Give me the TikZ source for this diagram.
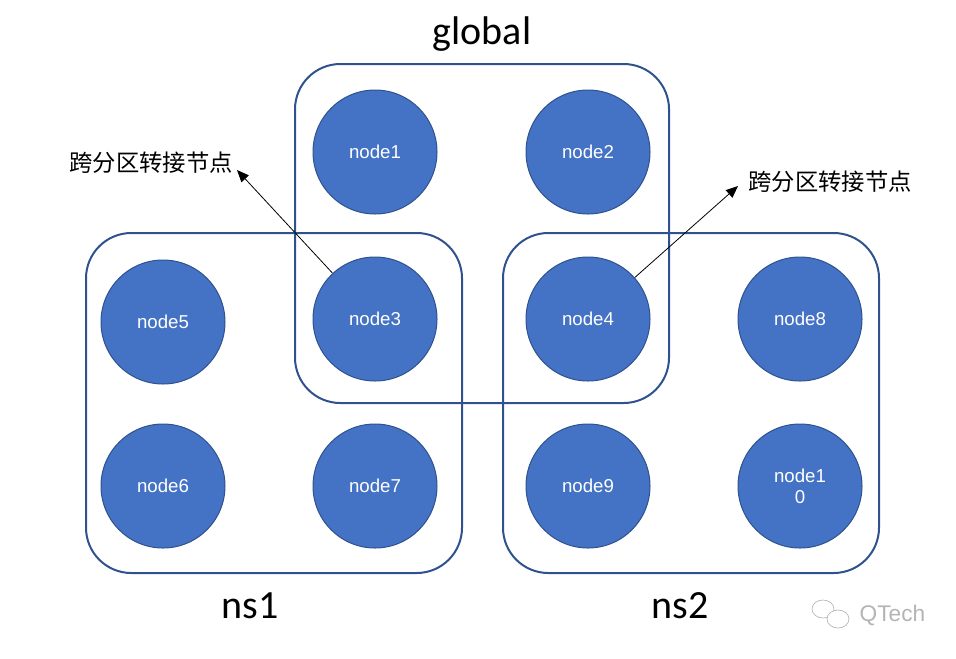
\documentclass[tikz,border=0pt]{standalone}
\usepackage{fontspec}
\setmainfont{Liberation Sans}
\newfontfamily\cjk{Noto Sans CJK SC}
\newfontfamily\calib{Carlito}
\usetikzlibrary{positioning, arrows.meta}
\definecolor{nodeblue}{HTML}{4472C4}
\definecolor{edgeblue}{HTML}{2F528F}
\definecolor{markgray}{HTML}{B4B4B4}

\begin{document}
\begin{tikzpicture}[x=0.75pt, y=-0.75pt,
    vm/.style={circle, draw=edgeblue, fill=nodeblue, line width=0.75pt, minimum size=93pt, inner sep=0pt, text=white, align=center, font=\fontsize{14}{16}\selectfont},
    zone/.style={draw=edgeblue, line width=1.5pt, rounded corners=34pt},
    zonelabel/.style={font=\calib\fontsize{30}{32}\selectfont},
    note/.style={font=\cjk\fontsize{17.5}{19}\selectfont},
    link/.style={-{Triangle[length=9pt, width=7.5pt]}, line width=0.6pt}]
        \useasboundingbox (0,0) rectangle (956,658);
        % partitions
        \draw[zone] (295,64) rectangle (669,403);
        \draw[zone] (86,233) rectangle (462,573);
        \draw[zone] (503,233) rectangle (879,573);
        \node[zonelabel] (Global) at (482,34) {global};
        \node[zonelabel] (NsOne) at (250,606) {ns1};
        \node[zonelabel] (NsTwo) at (680,606) {ns2};
        % nodes
        \node[vm] (Node1) at (375,152) {node1};
        \node[vm] (Node2) at (588,152) {node2};
        \node[vm] (Node3) at (375,319) {node3};
        \node[vm] (Node4) at (588,319) {node4};
        \node[vm] (Node5) at (163,322) {node5};
        \node[vm] (Node8) at (800,319) {node8};
        \node[vm] (Node6) at (163,486) {node6};
        \node[vm] (Node7) at (375,486) {node7};
        \node[vm] (Node9) at (588,486) {node9};
        \node[vm] (Node10) at (800,486) {node1\\0};
        % bridge notes
        \node[note] (NoteLeft) at (151,163) {跨分区转接节点};
        \node[note] (NoteRight) at (830,182) {跨分区转接节点};
        \coordinate (TipLeft) at (237,170);
        \coordinate (TipRight) at (738,186);
        \draw[link] (Node3) -- (TipLeft);
        \draw[link] (Node4) -- (TipRight);
        % watermark
        \draw[markgray, line width=0.5pt] (823,609) ellipse (11 and 9);
        \draw[markgray, line width=0.5pt, fill=white] (838,619) ellipse (11 and 9);
        \node[text=markgray, font=\fontsize{17}{19}\selectfont, anchor=west] (Mark) at (855,615) {QTech};
\end{tikzpicture}
\end{document}
